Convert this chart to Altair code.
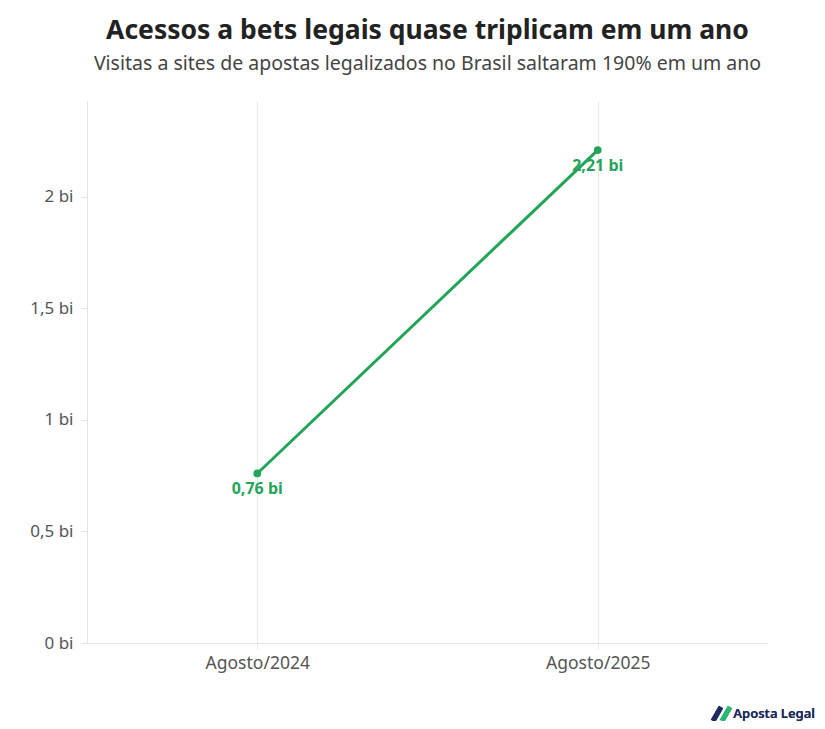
import altair as alt
import pandas as pd

periods = ["Agosto/2024", "Agosto/2025"]
visits_bi = [0.76, 2.21]
point_labels = ["0,76 bi", "2,21 bi"]

green = "#24a459"
font = "Noto Sans"

df = pd.DataFrame({"periodo": periods, "acessos": visits_bi, "rotulo": point_labels})

base = alt.Chart(df).encode(
    x=alt.X(
        "periodo:N",
        title=None,
        sort=periods,
        scale=alt.Scale(type="point", padding=0.5),
        axis=alt.Axis(
            labelAngle=0, labelFontSize=17.5, labelColor="#555555", labelPadding=5,
            grid=True, gridColor="#e8e8e8", tickColor="#e8e8e8", tickSize=6,
            domainColor="#e4e4e4",
        ),
    ),
    y=alt.Y(
        "acessos:Q",
        title=None,
        scale=alt.Scale(domain=[0, 2.43], nice=False),
        axis=alt.Axis(
            values=[0, 0.5, 1, 1.5, 2],
            labelExpr="replace(format(datum.value, '.1~f'), '.', ',') + ' bi'",
            labelFontSize=17, labelColor="#555555", labelPadding=8,
            grid=False, tickColor="#e4e4e4", tickSize=6, domainColor="#e4e4e4",
        ),
    ),
)

line = base.mark_line(color=green, strokeWidth=3)
points = base.mark_circle(color=green, size=60, opacity=1)
labels = base.mark_text(
    color=green, fontSize=16, fontWeight="bold", dy=16, baseline="middle", font=font
).encode(text="rotulo:N")

logo_text = alt.Chart(df).mark_text(
    text="Aposta Legal", color="#1d2b5e", fontSize=13, fontWeight=600,
    align="right", baseline="middle", font=font,
).encode(x=alt.value(728), y=alt.value(613))
logo_a = alt.Chart(df).mark_rule(color="#1d2b5e", strokeWidth=5).encode(
    x=alt.value(626), x2=alt.value(634), y=alt.value(620), y2=alt.value(606)
)
logo_b = alt.Chart(df).mark_rule(color="#2bb673", strokeWidth=5).encode(
    x=alt.value(635), x2=alt.value(643), y=alt.value(620), y2=alt.value(606)
)

chart = (line + points + labels + logo_a + logo_b + logo_text).properties(
    width=681,
    height=542,
    autosize=alt.AutoSizeParams(type="none"),
    padding={"left": 79, "top": 93, "right": 49, "bottom": 78},
    title=alt.TitleParams(
        text="Acessos a bets legais quase triplicam em um ano",
        subtitle="Visitas a sites de apostas legalizados no Brasil saltaram 190% em um ano",
        anchor="middle",
        fontSize=26.5,
        fontWeight="bold",
        color="#222222",
        subtitleFontSize=19.5,
        subtitleColor="#444444",
        subtitlePadding=10,
        offset=28,
        font=font,
        subtitleFont=font,
    ),
).configure(font=font).configure_view(stroke=None)

chart.save("out.html", embed_options={"renderer": "svg", "actions": False})
